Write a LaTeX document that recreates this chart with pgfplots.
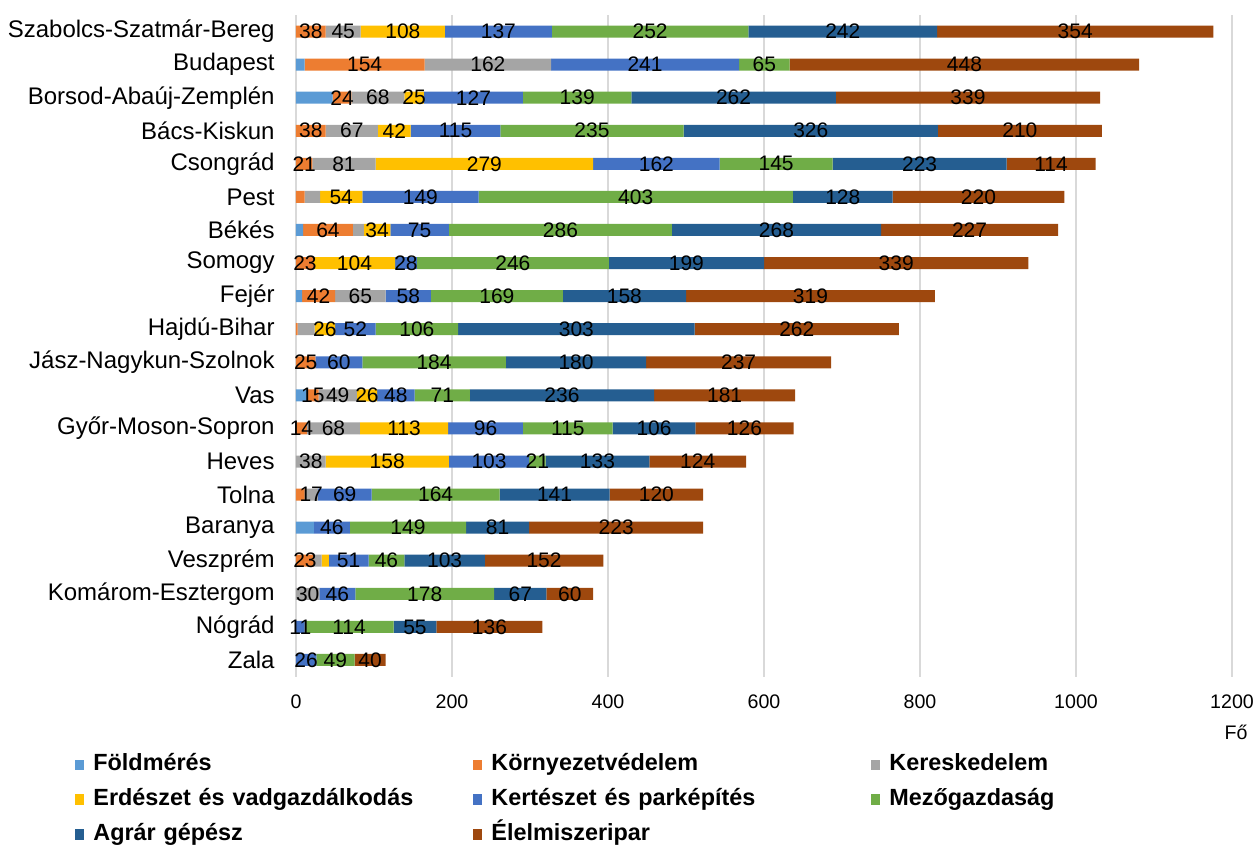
\documentclass[border=0pt]{standalone}
\usepackage{pgfplots}
\pgfplotsset{compat=1.18}
\usepackage{pgfplotstable}
\usepackage{fontspec}
\setmainfont{Liberation Sans}

\definecolor{cF}{HTML}{5B9BD5}
\definecolor{cK}{HTML}{ED7D31}
\definecolor{cKe}{HTML}{A5A5A5}
\definecolor{cE}{HTML}{FFC000}
\definecolor{cKt}{HTML}{4472C4}
\definecolor{cM}{HTML}{70AD47}
\definecolor{cA}{HTML}{255E91}
\definecolor{cEl}{HTML}{9E480E}
\definecolor{gridc}{HTML}{D9D9D9}

% i = row from top; F..El = persons per field; KeL = shown label of Ke
\pgfplotstableread{
i F K Ke E Kt M A El KeL
0 0 38 45 108 137 252 242 354 45
1 11 154 162 0 241 65 0 448 162
2 47 24 68 25 127 139 262 339 68
3 0 38 67 42 115 235 326 210 67
4 0 21 81 279 162 145 223 114 81
5 0 11 20 54 149 403 128 220 {}
6 9 64 14 34 75 286 268 227 {}
7 0 23 0 104 28 246 199 339 {}
8 8 42 65 0 58 169 158 319 65
9 0 2 22 26 52 106 303 262 {}
10 0 25 0 0 60 184 180 237 {}
11 14 15 49 26 48 71 236 181 49
12 0 14 68 113 96 115 106 126 68
13 0 0 38 158 103 21 133 124 38
14 0 11 17 0 69 164 141 120 17
15 23 0 0 0 46 149 81 223 {}
16 0 23 10 9 51 46 103 152 {}
17 0 0 30 0 46 178 67 60 30
18 0 0 0 0 11 114 55 136 {}
19 0 0 0 0 26 49 0 40 {}
}\tbl

\pgfplotsset{
  base/.style={scale only axis, width=468pt, height=330.75pt,
    xmin=0, xmax=1200, ymin=-0.5, ymax=19.5, y dir=reverse,
    /pgf/number format/assume math mode=true,
    /pgf/number format/1000 sep={}},
  lab/.style={draw=none, mark=none, nodes near coords, point meta=explicit,
    every node near coord/.append style={anchor=center, inner sep=0pt,
      font=\fontsize{10.5}{12}\selectfont, text=black}},
}

\begin{document}
\begin{tikzpicture}
\useasboundingbox (-148pt,-84.5pt) rectangle (480pt,338.25pt);
\begin{axis}[base,
  xbar stacked, bar width=6pt,
  axis line style={draw=none}, tick style={draw=none},
  xmajorgrids, grid style={draw=gridc, line width=0.75pt},
  xtick={0,200,...,1200},
  ytick={0,...,19},
  yticklabels={Szabolcs-Szatmár-Bereg, Budapest, Borsod-Abaúj-Zemplén, Bács-Kiskun,
    Csongrád, Pest, Békés, Somogy, Fejér, Hajdú-Bihar, Jász-Nagykun-Szolnok, Vas,
    Győr-Moson-Sopron, Heves, Tolna, Baranya, Veszprém, Komárom-Esztergom, Nógrád, Zala},
  yticklabel style={inner sep=0pt, xshift=-10.5pt, font=\fontsize{12}{14}\selectfont},
  xticklabel style={inner sep=0pt, yshift=-9pt, font=\fontsize{9.8}{11}\selectfont},
  xlabel={Fő},
  every axis x label/.style={at={(rel axis cs:1,0)}, anchor=center, xshift=2pt, yshift=-28pt,
    font=\fontsize{9.8}{11}\selectfont},
  legend columns=3,
  legend cell align=left,
  legend image code/.code={\fill[#1] (0pt,-2.7pt) rectangle (4.5pt,2.7pt);},
  legend style={draw=none, inner sep=0pt, at={(rel axis cs:0,0)}, anchor=north west,
    xshift=-110.5pt, yshift=-37.5pt, row sep=4.3pt,
    font=\bfseries\fontsize{11.7}{13}\selectfont,
    nodes={inner xsep=4.5pt, inner ysep=1pt, text width=185.5pt, align=left,
      text height=8.5pt, text depth=2.5pt}},
]
\addplot[fill=cF, draw=none] table[x=F, y=i] {\tbl};
\addlegendentry{Földmérés}
\addplot[fill=cK, draw=none] table[x=K, y=i] {\tbl};
\addlegendentry{Környezetvédelem}
\addplot[fill=cKe, draw=none] table[x=Ke, y=i] {\tbl};
\addlegendentry{Kereskedelem}
\addplot[fill=cE, draw=none] table[x=E, y=i] {\tbl};
\addlegendentry{Erdészet és vadgazdálkodás}
\addplot[fill=cKt, draw=none] table[x=Kt, y=i] {\tbl};
\addlegendentry{Kertészet és parképítés}
\addplot[fill=cM, draw=none] table[x=M, y=i] {\tbl};
\addlegendentry{Mezőgazdaság}
\addplot[fill=cA, draw=none] table[x=A, y=i] {\tbl};
\addlegendentry{Agrár gépész}
\addplot[fill=cEl, draw=none] table[x=El, y=i] {\tbl};
\addlegendentry{Élelmiszeripar}
\end{axis}

% value labels, centred in each segment
\begin{axis}[base, hide axis, clip=false]
\addplot[lab, restrict expr to domain={\thisrow{K}}{13.5:5000}]
  table[x expr=\thisrow{F}+\thisrow{K}/2, y=i, meta=K] {\tbl};
\addplot[draw=none, mark=none, nodes near coords={\pgfplotspointmeta}, point meta=explicit symbolic,
  every node near coord/.append style={anchor=center, inner sep=0pt,
    font=\fontsize{10.5}{12}\selectfont, text=black}]
  table[x expr=\thisrow{F}+\thisrow{K}+\thisrow{Ke}/2, y=i, meta=KeL] {\tbl};
\addplot[lab, restrict expr to domain={\thisrow{E}}{10.5:5000}]
  table[x expr=\thisrow{F}+\thisrow{K}+\thisrow{Ke}+\thisrow{E}/2, y=i, meta=E] {\tbl};
\addplot[lab, restrict expr to domain={\thisrow{Kt}}{10.5:5000}]
  table[x expr=\thisrow{F}+\thisrow{K}+\thisrow{Ke}+\thisrow{E}+\thisrow{Kt}/2, y=i, meta=Kt] {\tbl};
\addplot[lab, restrict expr to domain={\thisrow{M}}{10.5:5000}]
  table[x expr=\thisrow{F}+\thisrow{K}+\thisrow{Ke}+\thisrow{E}+\thisrow{Kt}+\thisrow{M}/2, y=i, meta=M] {\tbl};
\addplot[lab, restrict expr to domain={\thisrow{A}}{10.5:5000}]
  table[x expr=\thisrow{F}+\thisrow{K}+\thisrow{Ke}+\thisrow{E}+\thisrow{Kt}+\thisrow{M}+\thisrow{A}/2, y=i, meta=A] {\tbl};
\addplot[lab, restrict expr to domain={\thisrow{El}}{10.5:5000}]
  table[x expr=\thisrow{F}+\thisrow{K}+\thisrow{Ke}+\thisrow{E}+\thisrow{Kt}+\thisrow{M}+\thisrow{A}+\thisrow{El}/2, y=i, meta=El] {\tbl};
\end{axis}
\end{tikzpicture}
\end{document}
